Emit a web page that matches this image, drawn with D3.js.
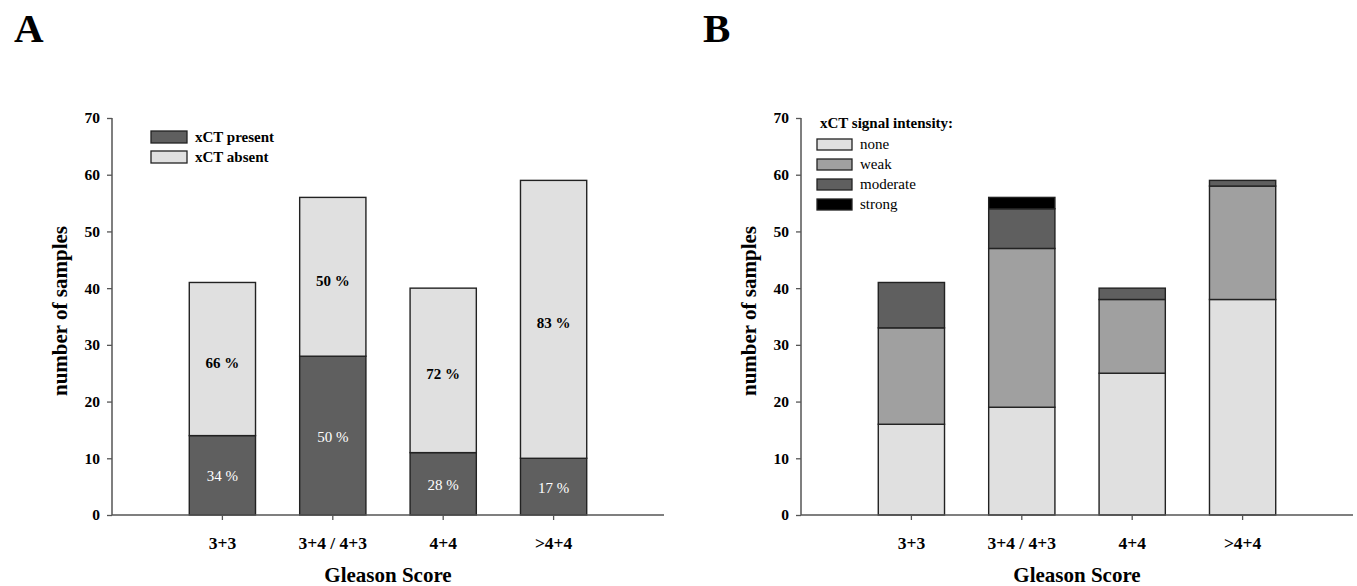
<!DOCTYPE html>
<html><head><meta charset="utf-8">
<script src="https://cdn.jsdelivr.net/npm/d3@7"></script>
<style>body{margin:0;background:#fff}svg{display:block}text{font-family:"Liberation Serif","Times New Roman",serif}</style>
</head><body><svg id="c" width="1357" height="586"></svg>
<script>
const categories = ["3+3", "3+4 / 4+3", "4+4", ">4+4"];
const yTicks = [0, 10, 20, 30, 40, 50, 60, 70];
// Panel A
const xctPresent = [14, 28, 11, 10];
const xctAbsent = [27, 28, 29, 49];
const pctPresent = ["34 %", "50 %", "28 %", "17 %"];
const pctAbsent = ["66 %", "50 %", "72 %", "83 %"];
const keysA = ["xCT present", "xCT absent"];
// Panel B
const intNone = [16, 19, 25, 38];
const intWeak = [17, 28, 13, 20];
const intModerate = [8, 7, 2, 1];
const intStrong = [0, 2, 0, 0];
const keysB = ["none", "weak", "moderate", "strong"];

const colA = {"xCT present": "#5f5f5f", "xCT absent": "#e0e0e0"};
const colB = {none: "#e0e0e0", weak: "#a0a0a0", moderate: "#5f5f5f", strong: "#000000"};

const svg = d3.select("#c");
const y = d3.scaleLinear().domain([0, 70]).range([515, 118]);

function panel(ox, letter, rows, keys, colors) {
  const g = svg.append("g").attr("transform", `translate(${ox},0)`);
  const x0 = 112, x1 = 664;
  const x = d3.scaleBand().domain(categories).range([x0, x1]).paddingInner(0.4).paddingOuter(0.7);
  const stacked = d3.stack().keys(keys)(rows);
  stacked.forEach(layer => {
    g.selectAll(null).data(layer).enter().append("rect")
      .attr("x", d => x(d.data.cat))
      .attr("width", x.bandwidth())
      .attr("y", d => y(d[1]))
      .attr("height", d => y(d[0]) - y(d[1]))
      .attr("fill", colors[layer.key])
      .attr("stroke", "#222").attr("stroke-width", 1.4)
      .attr("display", d => d[1] - d[0] > 0 ? null : "none");
  });
  // y axis
  const ya = g.append("g").attr("transform", `translate(${x0},0)`)
    .call(d3.axisLeft(y).tickValues(yTicks).tickSize(5).tickPadding(7).tickFormat(d3.format("d")));
  ya.select(".domain").attr("stroke", "#555").attr("stroke-width", 1.5).attr("d", `M0,${y(70)}V${y(0)}`);
  ya.selectAll(".tick line").attr("stroke", "#555").attr("stroke-width", 1.3);
  ya.selectAll("text").attr("font-size", 15.5).attr("font-weight", "bold").attr("fill", "#000")
    .attr("font-family", "Liberation Serif");
  // x axis
  const xa = g.append("g").attr("transform", `translate(0,${y(0)})`)
    .call(d3.axisBottom(x).tickSize(5).tickPadding(17));
  xa.select(".domain").attr("stroke", "#555").attr("stroke-width", 1.5).attr("d", `M${x0},0H${x1}`);
  xa.selectAll(".tick line").attr("stroke", "#555").attr("stroke-width", 1.3);
  xa.selectAll("text").attr("font-size", 17.5).attr("font-weight", "bold").attr("fill", "#000")
    .attr("font-family", "Liberation Serif");
  // titles
  g.append("text").attr("x", (x0 + x1) / 2).attr("y", 582).attr("text-anchor", "middle")
    .attr("font-size", 21).attr("font-weight", "bold").text("Gleason Score");
  g.append("text").attr("transform", `translate(67,311) rotate(-90)`).attr("text-anchor", "middle")
    .attr("font-size", 21).attr("font-weight", "bold").text("number of samples");
  g.append("text").attr("x", 14).attr("y", 42).attr("font-size", 41).attr("font-weight", "bold").text(letter);
  return {g, x};
}

// Panel A
const rowsA = categories.map((c, i) => ({cat: c, "xCT present": xctPresent[i], "xCT absent": xctAbsent[i]}));
const A = panel(0, "A", rowsA, keysA, colA);
categories.forEach((c, i) => {
  const cx = A.x(c) + A.x.bandwidth() / 2;
  A.g.append("text").attr("x", cx).attr("y", y(xctPresent[i] / 2) + 6).attr("text-anchor", "middle")
    .attr("font-size", 15).attr("fill", "#fff").text(pctPresent[i]);
  A.g.append("text").attr("x", cx).attr("y", y(xctPresent[i] + xctAbsent[i] / 2) + 9).attr("text-anchor", "middle")
    .attr("font-size", 15).attr("font-weight", "bold").attr("fill", "#000").text(pctAbsent[i]);
});
const legA = A.g.append("g");
keysA.forEach((k, i) => {
  legA.append("rect").attr("x", 151).attr("y", 131 + 20 * i).attr("width", 36).attr("height", 12)
    .attr("fill", colA[k]).attr("stroke", "#222").attr("stroke-width", 1.3);
  legA.append("text").attr("x", 195).attr("y", 142 + 20 * i).attr("font-size", 15).attr("font-weight", "bold").text(k);
});

// Panel B
const rowsB = categories.map((c, i) => ({cat: c, none: intNone[i], weak: intWeak[i], moderate: intModerate[i], strong: intStrong[i]}));
const B = panel(689, "B", rowsB, keysB, colB);
const legB = B.g.append("g");
legB.append("text").attr("x", 131).attr("y", 128).attr("font-size", 15).attr("font-weight", "bold").text("xCT signal intensity:");
keysB.forEach((k, i) => {
  legB.append("rect").attr("x", 128).attr("y", 139 + 20 * i).attr("width", 35).attr("height", 11)
    .attr("fill", colB[k]).attr("stroke", "#222").attr("stroke-width", 1.3);
  legB.append("text").attr("x", 171).attr("y", 149 + 20 * i).attr("font-size", 15).text(k);
});
</script></body></html>
